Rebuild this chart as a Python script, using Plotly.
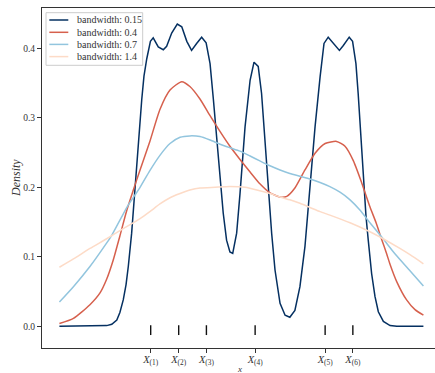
import plotly.graph_objects as go

# sample points (rug) and their tick labels
samples = [0.0, 1.0, 1.99, 3.73, 6.23, 7.22]
sample_labels = ["<i>X</i><sub>(1)</sub>", "<i>X</i><sub>(2)</sub>", "<i>X</i><sub>(3)</sub>",
                 "<i>X</i><sub>(4)</sub>", "<i>X</i><sub>(5)</sub>", "<i>X</i><sub>(6)</sub>"]

# bandwidth 0.15
x_bw015 = [-3.26, -1.81, -1.57, -1.39, -1.21, -1.10, -0.98, -0.88, -0.80, -0.68, -0.56, -0.44,
           -0.32, -0.24, -0.14, -0.01, 0.09, 0.27, 0.45, 0.57, 0.75, 0.95, 1.11, 1.29, 1.46,
           1.64, 1.82, 1.98, 2.12, 2.24, 2.36, 2.48, 2.59, 2.71, 2.83, 2.93, 3.07, 3.19, 3.37,
           3.55, 3.69, 3.84, 3.96, 4.08, 4.20, 4.32, 4.44, 4.62, 4.80, 4.97, 5.15, 5.33, 5.51,
           5.69, 5.87, 6.05, 6.19, 6.34, 6.58, 6.74, 6.88, 7.09, 7.21, 7.33, 7.41, 7.50, 7.59,
           7.69, 7.77, 7.89, 8.01, 8.13, 8.31, 8.55, 8.79, 9.74]
y_bw015 = [0.000, 0.000, 0.001, 0.003, 0.009, 0.020, 0.038, 0.060, 0.086, 0.134, 0.200, 0.270,
           0.326, 0.360, 0.385, 0.410, 0.415, 0.402, 0.398, 0.403, 0.422, 0.435, 0.431, 0.410,
           0.397, 0.407, 0.416, 0.408, 0.378, 0.326, 0.268, 0.215, 0.163, 0.124, 0.107, 0.105,
           0.134, 0.191, 0.287, 0.354, 0.380, 0.374, 0.335, 0.268, 0.200, 0.134, 0.081, 0.033,
           0.016, 0.013, 0.023, 0.057, 0.115, 0.200, 0.287, 0.359, 0.407, 0.416, 0.404, 0.397,
           0.404, 0.416, 0.410, 0.378, 0.335, 0.278, 0.215, 0.158, 0.124, 0.076, 0.043, 0.021,
           0.007, 0.001, 0.000, 0.000]

# bandwidth 0.4
x_bw04 = [-3.26, -2.76, -2.17, -1.81, -1.57, -1.34, -1.10, -0.86, -0.62, -0.38, -0.03, 0.33,
          0.69, 1.11, 1.40, 1.76, 2.12, 2.48, 2.83, 3.19, 3.55, 3.90, 4.26, 4.62, 4.86, 5.15,
          5.51, 5.87, 6.23, 6.64, 6.94, 7.24, 7.54, 7.83, 8.05, 8.25, 8.43, 8.55, 8.79, 9.14,
          9.44, 9.74]
y_bw04 = [0.004, 0.0115, 0.031, 0.048, 0.068, 0.095, 0.130, 0.166, 0.196, 0.225, 0.266, 0.312,
          0.340, 0.352, 0.345, 0.327, 0.303, 0.280, 0.259, 0.240, 0.222, 0.205, 0.192, 0.186,
          0.187, 0.199, 0.225, 0.249, 0.263, 0.266, 0.259, 0.238, 0.206, 0.172, 0.149, 0.125,
          0.104, 0.089, 0.064, 0.038, 0.024, 0.016]

# bandwidth 0.7
x_bw07 = [-3.26, -2.76, -2.17, -1.57, -1.39, -0.84, -0.56, -0.38, -0.03, 0.33, 0.69, 1.05,
          1.40, 1.76, 2.12, 2.48, 2.83, 3.19, 3.55, 3.90, 4.26, 4.62, 4.97, 5.33, 5.69, 6.05,
          6.40, 6.76, 7.12, 7.48, 7.83, 8.30, 8.73, 9.26, 9.74]
y_bw07 = [0.035, 0.057, 0.086, 0.120, 0.131, 0.172, 0.189, 0.200, 0.224, 0.246, 0.263, 0.272,
          0.274, 0.273, 0.268, 0.262, 0.257, 0.252, 0.245, 0.238, 0.231, 0.225, 0.220, 0.216,
          0.212, 0.207, 0.201, 0.193, 0.182, 0.167, 0.149, 0.126, 0.104, 0.080, 0.058]

# bandwidth 1.4
x_bw14 = [-3.26, -2.76, -2.17, -1.57, -1.04, -0.38, -0.03, 0.33, 0.69, 1.05, 1.40, 1.76,
          2.30, 2.83, 3.37, 3.90, 4.26, 4.62, 4.97, 5.33, 5.69, 6.05, 6.40, 7.12, 7.83, 8.30,
          8.90, 9.26, 9.74]
y_bw14 = [0.085, 0.097, 0.112, 0.126, 0.139, 0.155, 0.165, 0.176, 0.185, 0.191, 0.196, 0.199,
          0.200, 0.201, 0.200, 0.195, 0.191, 0.186, 0.182, 0.177, 0.171, 0.165, 0.160, 0.149,
          0.136, 0.126, 0.112, 0.103, 0.090]

labels = ["bandwidth: 0.15", "bandwidth: 0.4", "bandwidth: 0.7", "bandwidth: 1.4"]
colors = ["#053061", "#d6604d", "#92c5de", "#fddbc7"]

y_ticks = [0.0, 0.1, 0.2, 0.3, 0.4]
y_ticklabels = ["0.0", "0.1", "0.2", "0.3", "0.4"]

FONT = "Liberation Serif"

fig = go.Figure()
series = [(x_bw015, y_bw015, "linear"), (x_bw04, y_bw04, "spline"),
          (x_bw07, y_bw07, "spline"), (x_bw14, y_bw14, "spline")]
for (xs, ys, shape), lab, col in zip(series, labels, colors):
    line = dict(color=col, width=1.5, shape=shape)
    if shape == "spline":
        line["smoothing"] = 0.6
    fig.add_trace(go.Scatter(x=xs, y=ys, mode="lines", name=lab, line=line,
                             showlegend=False, hoverinfo="skip"))

# rug
fig.add_trace(go.Scatter(x=samples, y=[-0.0055] * len(samples), mode="markers",
                         marker=dict(symbol="line-ns", size=7,
                                     line=dict(color="#111", width=1.4)),
                         showlegend=False, hoverinfo="skip"))

W, H = 435, 373
ml, mr, mt, mb = 42, 0, 8, 25
pw, ph = W - ml - mr, H - mt - mb


def px_x(p):
    return (p - ml) / pw


def px_y(p):
    return (H - mb - p) / ph


# manual legend
shapes = [dict(type="rect", xref="paper", yref="paper",
               x0=px_x(46), x1=px_x(142.7), y0=px_y(65.3), y1=px_y(12.7),
               line=dict(color="#cccccc", width=1), fillcolor="rgba(255,255,255,0.8)",
               layer="above")]
annotations = []
rows = [20, 32.3, 44.4, 56.6]
for r, lab, col in zip(rows, labels, colors):
    shapes.append(dict(type="line", xref="paper", yref="paper",
                       x0=px_x(49.3), x1=px_x(68.3), y0=px_y(r), y1=px_y(r),
                       line=dict(color=col, width=1.5), layer="above"))
    annotations.append(dict(text=lab, xref="paper", yref="paper", x=px_x(74.5), y=px_y(r),
                            xanchor="left", yanchor="middle", showarrow=False,
                            font=dict(family=FONT, size=10, color="#333")))

annotations.append(dict(text="<i>Density</i>", xref="paper", yref="paper",
                        x=px_x(16), y=px_y(178), textangle=-90, showarrow=False,
                        xanchor="center", yanchor="middle",
                        font=dict(family=FONT, size=12, color="#333")))
annotations.append(dict(text="<i>x</i>", xref="paper", yref="paper",
                        x=px_x(240), y=px_y(369), showarrow=False,
                        xanchor="center", yanchor="middle",
                        font=dict(family=FONT, size=9, color="#333")))

fig.update_layout(
    width=W, height=H, margin=dict(l=ml, r=mr, t=mt, b=mb, pad=0),
    plot_bgcolor="white", paper_bgcolor="white", showlegend=False,
    shapes=shapes, annotations=annotations,
    xaxis=dict(range=[-3.882, 10.154], showgrid=False, zeroline=False,
               showline=True, linecolor="#333", linewidth=1, mirror=True,
               tickmode="array", tickvals=samples, ticktext=sample_labels,
               ticks="outside", ticklen=4, tickwidth=1, tickcolor="#333",
               ticklabelstandoff=-3,
               tickfont=dict(family=FONT, size=10.5, color="#333")),
    yaxis=dict(range=[-0.0312, 0.458], showgrid=False, zeroline=False,
               showline=True, linecolor="#333", linewidth=1,
               tickmode="array", tickvals=y_ticks, ticktext=y_ticklabels,
               ticks="outside", ticklen=4, tickwidth=1, tickcolor="#333",
               tickfont=dict(family=FONT, size=9.5, color="#333")),
)

fig.write_html("out.html")
